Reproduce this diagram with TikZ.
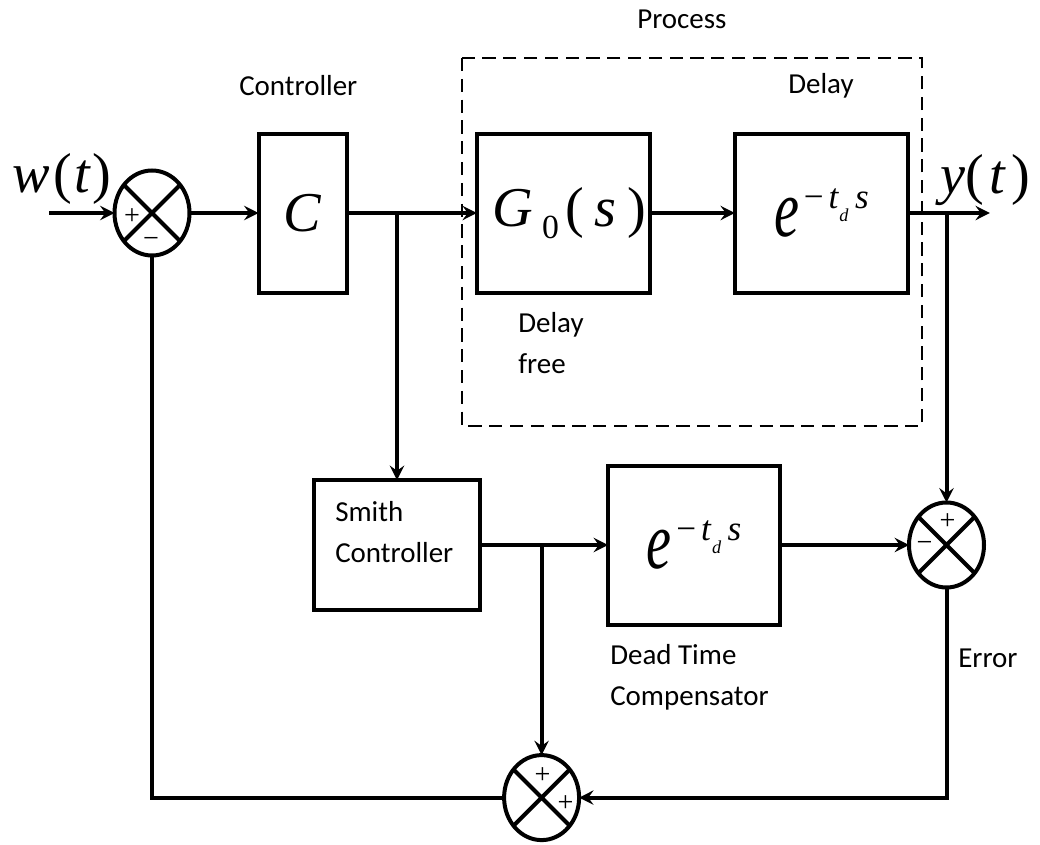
\documentclass[tikz,border=0pt]{standalone}
\usepackage{fontspec}
\setmainfont{Carlito}
\newfontfamily\eqfont{Liberation Serif}
\usepackage{graphicx}
\usepackage{tikz}
\usetikzlibrary{arrows.meta,positioning,calc,shapes.geometric}
\newcommand{\eqi}[1]{{\eqfont\itshape #1}}
\newcommand{\bigeq}{\eqfont\fontsize{40}{40}\selectfont}
\newcommand{\lblfont}{\fontsize{20.6}{28.5}\selectfont}
\newcommand{\dtexp}{\scalebox{1}[1.45]{\eqi{e}}\kern1.2mm\raisebox{7mm}{\fontsize{25}{25}\selectfont\eqfont −\kern1.2mm\eqi{t}\kern0.3mm\raisebox{-3.2mm}{\fontsize{13}{13}\selectfont\eqi{d}}\kern1.6mm\eqi{s}}}

\begin{document}
\begin{tikzpicture}[
  node distance=17mm,
  blk/.style={draw, line width=1mm, inner sep=0pt, outer sep=0pt, font=\bigeq},
  sumj/.style={ellipse, draw, line width=1mm, minimum width=18.75mm, minimum height=21.25mm, inner sep=0pt, outer sep=0pt},
  arr/.style={-{Stealth[length=3.6mm, width=3.6mm, inset=1.3mm]}, line width=1mm},
  wire/.style={line width=1mm},
  lbl/.style={font=\lblfont, inner sep=0pt, align=left, anchor=base west},
  sgn/.style={font=\eqfont\fontsize{20}{20}\selectfont, inner sep=0pt},
  procframe/.style={line width=0.5mm, dash pattern=on 3.3mm off 1.9mm}
]
\useasboundingbox (0,0) rectangle (260mm,-211.25mm);
\node[sumj] (sum1) at (38mm,-53.25mm) {};
\node[blk, minimum width=22mm, minimum height=39.75mm, right=17.25mm of sum1] (ctrl) {\eqi{C}};
\node[blk, minimum width=43.25mm, minimum height=39.75mm, right=32.6mm of ctrl] (plant) {\kern3mm\eqi{G}\kern2.3mm\raisebox{-3mm}{\fontsize{24}{24}\selectfont 0}\kern1.5mm(\kern2.75mm\eqi{s}\kern2.75mm)};
\node[blk, minimum width=43.25mm, minimum height=39.75mm, right=21.25mm of plant] (delay) {\dtexp};
\coordinate[right=20.5mm of delay] (yout);
\coordinate (win) at (12.25mm,-53.25mm);
\node[blk, minimum width=41.5mm, minimum height=32.5mm] (smith) at (99.25mm,-136.25mm) {};
\node[blk, minimum width=43mm, minimum height=39.75mm, right=32mm of smith] (dtc) {\dtexp};
\node[sumj, right=32.25mm of dtc] (sum2) {};
\node[sumj] (sum3) at (135.4mm,-199.4mm) {};
\coordinate (ctap) at (smith.north |- ctrl.east);
\coordinate (ytap) at (sum2.north |- delay.east);
\coordinate (stap) at (sum3.north |- smith.east);

\draw[procframe] (115.5mm,-14.5mm) rectangle (230.5mm,-106.5mm);

\draw[arr] (win) -- (sum1);
\draw[arr] (sum1) -- (ctrl);
\draw[arr] (ctrl) -- (plant);
\draw[arr] (plant) -- (delay);
\draw[arr] (delay) -- (yout);
\draw[arr] (ctap) -- (smith);
\draw[arr] (ytap) -- (sum2);
\draw[arr] (smith) -- (dtc);
\draw[arr] (dtc) -- (sum2);
\draw[arr] (stap) -- (sum3);
\draw[arr] (sum2) |- (sum3);
\draw[wire] (sum3) -| (sum1);
\foreach \s in {sum1,sum2,sum3}
  \draw[wire] (\s.45) -- (\s.225) (\s.135) -- (\s.315);

\node[sgn] (p1) at ($(sum1)+(-5mm,-1mm)$) {+};
\node[sgn] (m1) at ($(sum1)+(-0.25mm,-7.25mm)$) {−};
\node[sgn] (p2) at ($(sum2)+(0.25mm,5.75mm)$) {+};
\node[sgn] (m2) at ($(sum2)+(-5.5mm,-0.25mm)$) {−};
\node[sgn] (p3) at ($(sum3)+(0.25mm,5.5mm)$) {+};
\node[sgn] (p4) at ($(sum3)+(6mm,-1.5mm)$) {+};

\node[lbl] (lctrl) at (59.75mm,-23.75mm) {Controller};
\node[lbl] (lproc) at (159.25mm,-7mm) {Process};
\node[lbl] (ldelay) at (197mm,-23.25mm) {Delay};
\node[lbl] (lfree) at (129.5mm,-93.25mm) {Delay\\free};
\node[lbl] (lsmith) at (83.75mm,-140.5mm) {Smith\\Controller};
\node[lbl] (ldtc) at (152.5mm,-176.25mm) {Dead Time\\Compensator};
\node[lbl] (lerr) at (239.5mm,-166.75mm) {Error};
\node[lbl, font=\bigeq] (lw) at (3mm,-48mm) {\eqi{w}\kern1mm(\kern0.5mm\eqi{t}\kern0.5mm)};
\node[lbl, font=\bigeq] (ly) at (235mm,-48.25mm) {\eqi{y}(\kern1.5mm\eqi{t}\kern1.5mm)};
\end{tikzpicture}
\end{document}
